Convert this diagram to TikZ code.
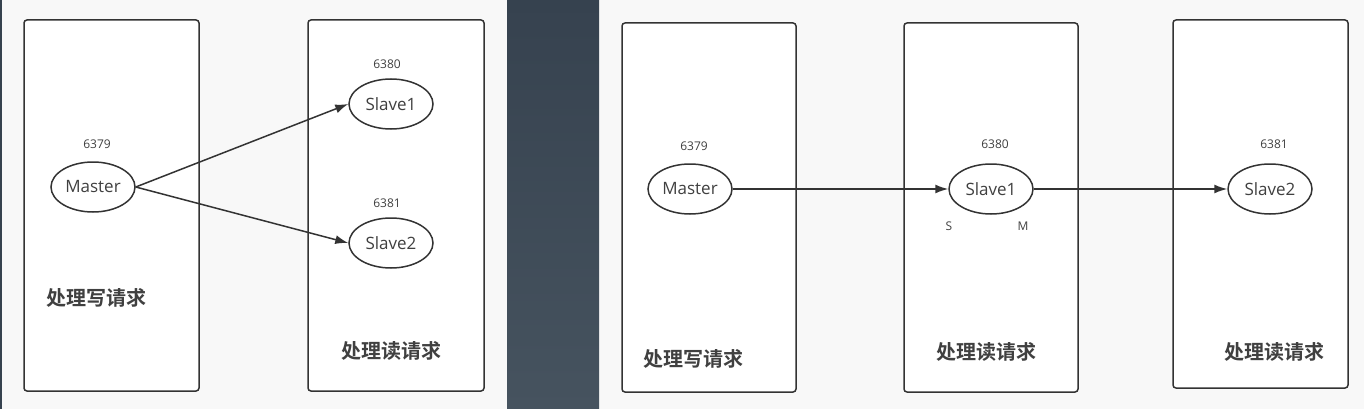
\documentclass[tikz,border=0pt]{standalone}
\usepackage{fontspec}
\setmainfont{Open Sans}
\newfontfamily\cjk{Noto Sans CJK SC}[BoldFont={Noto Sans CJK SC Bold}]
\usetikzlibrary{arrows.meta,shapes.geometric,calc}
\definecolor{bgpanel}{HTML}{F8F8F8}
\definecolor{bandtop}{HTML}{36424F}
\definecolor{bandbot}{HTML}{46535F}
\definecolor{ink}{HTML}{333333}
\definecolor{txt}{HTML}{404040}
\tikzset{
  panelbox/.style={draw=ink, line width=1.5pt, fill=white, rounded corners=3pt},
  redis/.style={ellipse, draw=ink, line width=1.5pt, fill=white, minimum width=84pt, minimum height=50pt, inner sep=0pt, text=txt, font=\fontsize{17}{19}\selectfont},
  port/.style={text=txt, font=\fontsize{12}{14}\selectfont, inner sep=0pt},
  role/.style={text=txt, font=\cjk\bfseries\fontsize{20}{22}\selectfont, inner sep=0pt},
  link/.style={draw=ink, line width=1.5pt, -{Latex[length=13pt,width=9pt]}}
}
\begin{document}
\begin{tikzpicture}[x=1pt,y=-1pt]
\useasboundingbox (0,0) rectangle (1364,409);
% backgrounds
\fill[bgpanel] (0,0) rectangle (507,409);
\fill[bgpanel] (599,0) rectangle (1364,409);
\fill[bandtop] (0,0) rectangle (2,409);
\shade[top color=bandtop, bottom color=bandbot] (507,0) rectangle (599,409);
% left panel boxes
\draw[panelbox] (24,20) rectangle (199,391);
\draw[panelbox] (308,20) rectangle (484,391);
% right panel boxes
\draw[panelbox] (622,23) rectangle (796,392);
\draw[panelbox] (904,23) rectangle (1078,392);
\draw[panelbox] (1173,20) rectangle (1348,388);
% left panel nodes
\node[redis] (m1) at (93,187) {Master};
\node[redis] (s11) at (391,104) {Slave1};
\node[redis] (s21) at (391,243) {Slave2};
\node[port] (p1) at (97,144) {6379};
\node[port] (p2) at (387,64) {6380};
\node[port] (p3) at (387,203) {6381};
\node[role] (w1) at (96,298) {处理写请求};
\node[role] (r1) at (391,351) {处理读请求};
\draw[link] (m1.east) -- (s11.west);
\draw[link] (m1.east) -- (s21.west);
% right panel nodes
\node[redis] (m2) at (690,189) {Master};
\node[redis] (s12) at (991,189) {Slave1};
\node[redis] (s22) at (1270,189) {Slave2};
\node[port] (q1) at (694,146) {6379};
\node[port] (q2) at (995,144) {6380};
\node[port] (q3) at (1274,144) {6381};
\node[port] (sl) at (949,226) {S};
\node[port] (ma) at (1023,226) {M};
\node[role] (w2) at (693,359) {处理写请求};
\node[role] (r2) at (986,352) {处理读请求};
\node[role] (r3) at (1274,352) {处理读请求};
\draw[link] (m2.east) -- (s12.west);
\draw[link] (s12.east) -- (s22.west);
\end{tikzpicture}
\end{document}
